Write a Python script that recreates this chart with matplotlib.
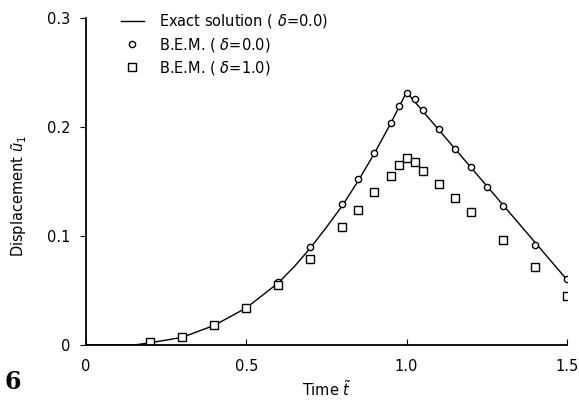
import numpy as np
import matplotlib.pyplot as plt

# exact solution (delta = 0.0)
t_exact = [0.0, 0.15, 0.2, 0.3, 0.4, 0.5, 0.6, 0.65, 0.7, 0.75, 0.8, 0.85, 0.9, 0.95, 1.0, 1.5]
u_exact = [0.0, 0.0, 0.002, 0.007, 0.018, 0.034, 0.057, 0.072, 0.089, 0.108, 0.128, 0.151,
           0.176, 0.203, 0.232, 0.060]

# B.E.M. (delta = 0.0)
t_bem0 = [0.2, 0.3, 0.4, 0.5, 0.6, 0.7, 0.8, 0.85, 0.9, 0.95, 0.975, 1.0, 1.025, 1.05,
          1.1, 1.15, 1.2, 1.25, 1.3, 1.4, 1.5]
u_bem0 = [0.003, 0.007, 0.018, 0.034, 0.058, 0.090, 0.129, 0.152, 0.176, 0.204, 0.219,
          0.2315, 0.226, 0.2156, 0.198, 0.180, 0.163, 0.145, 0.1275, 0.0917, 0.0606]

# B.E.M. (delta = 1.0)
t_bem1 = [0.2, 0.3, 0.4, 0.5, 0.6, 0.7, 0.8, 0.85, 0.9, 0.95, 0.975, 1.0, 1.025, 1.05,
          1.1, 1.15, 1.2, 1.3, 1.4, 1.5]
u_bem1 = [0.003, 0.007, 0.018, 0.034, 0.055, 0.079, 0.1085, 0.124, 0.140, 0.155, 0.165,
          0.172, 0.168, 0.160, 0.148, 0.135, 0.122, 0.096, 0.072, 0.045]

plt.rcParams['font.family'] = 'DejaVu Sans'
plt.rcParams['mathtext.fontset'] = 'dejavusans'

fig = plt.figure(figsize=(5.79, 4.01), dpi=100)
ax = fig.add_axes([0.1485, 0.1397, 0.8305, 0.8153])

ax.plot(t_exact, u_exact, color='black', lw=1.0, label='Exact solution ( $\\delta$=0.0)')
ax.plot(t_bem0, u_bem0, ls='none', marker='o', ms=4.5, mfc='white', mec='black', mew=1.0,
        label='B.E.M. ( $\\delta$=0.0)')
ax.plot(t_bem1, u_bem1, ls='none', marker='s', ms=6, mfc='white', mec='black', mew=1.0,
        label='B.E.M. ( $\\delta$=1.0)')

ax.set_xlim(0, 1.5)
ax.set_ylim(0, 0.3)
ax.set_xticks([0, 0.5, 1.0, 1.5])
ax.set_xticklabels(['0', '0.5', '1.0', '1.5'])
ax.set_yticks([0, 0.1, 0.2, 0.3])
ax.set_yticklabels(['0', '0.1', '0.2', '0.3'])
ax.spines['top'].set_visible(False)
ax.spines['right'].set_visible(False)
ax.spines['left'].set_linewidth(1.3)
ax.spines['bottom'].set_linewidth(1.3)
ax.tick_params(axis='x', direction='in', length=4, labelsize=10.5, pad=10)
ax.tick_params(axis='y', direction='out', length=4, labelsize=10.5, pad=7)

ax.set_xlabel('Time $\\tilde{t}$', fontsize=10.5)
ax.set_ylabel('Displacement $\\tilde{u}_1$', fontsize=10.5)
ax.xaxis.set_label_coords(0.5, -0.135, transform=ax.transAxes)
ax.yaxis.set_label_coords(-0.139, 0.456, transform=ax.transAxes)
ax.xaxis.label.set_va('center')
ax.yaxis.label.set_va('center')

ax.legend(loc='upper left', bbox_to_anchor=(0.06, 1.035), frameon=False, fontsize=10.5,
          handlelength=1.6, labelspacing=0.36, handletextpad=1.0, borderaxespad=0)

fig.text(0.008, 0.03, '6', fontsize=17, fontweight='bold', family='DejaVu Serif')

plt.savefig('out.png', dpi=100)
